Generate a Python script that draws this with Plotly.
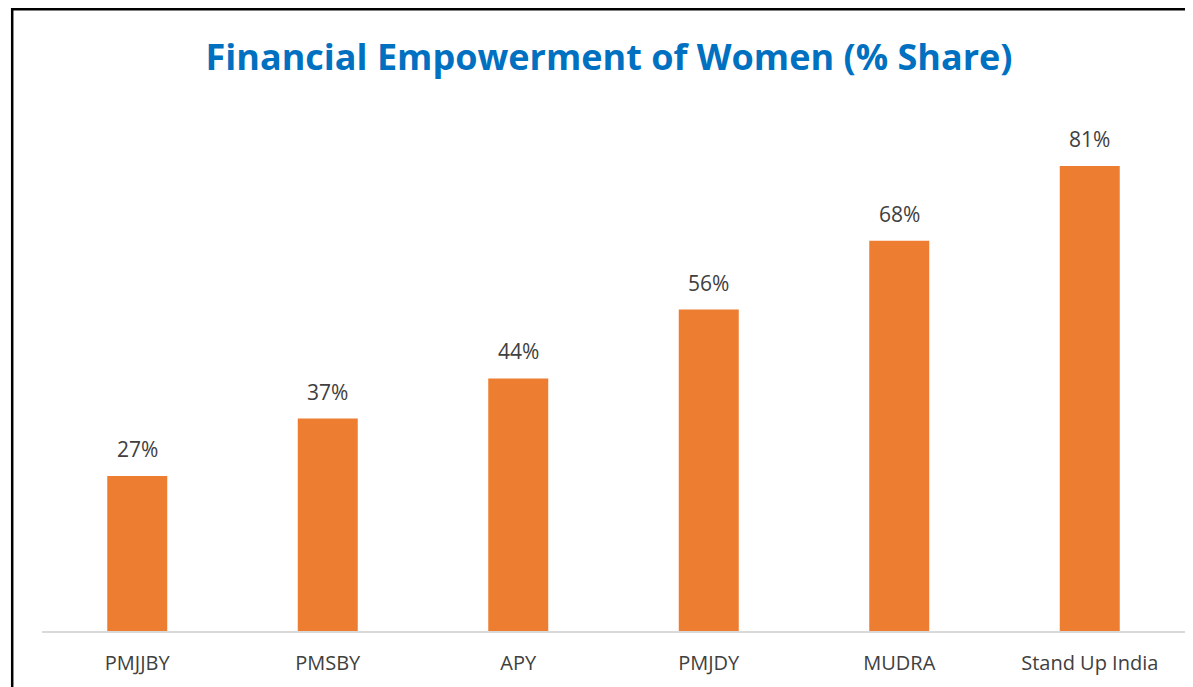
import plotly.graph_objects as go

categories = ["PMJJBY", "PMSBY", "APY", "PMJDY", "MUDRA", "Stand Up India"]
shares = [27, 37, 44, 56, 68, 81]
labels = ["27%", "37%", "44%", "56%", "68%", "81%"]

W, H = 1185, 679
L, T, B, R = 34, 92, 56, 8
PW = W - L - R
PH = H - T - B

fig = go.Figure()
fig.add_trace(go.Bar(
    x=categories, y=shares,
    marker=dict(color="#ED7D31", line=dict(width=0)),
    hoverinfo="x+y",
))
for c, v, t in zip(categories, shares, labels):
    fig.add_annotation(x=c, y=v, text=t, showarrow=False, yanchor="bottom", yshift=11,
                       font=dict(family="Open Sans, sans-serif", size=21, color="#404040"))

fig.update_layout(
    width=W, height=H,
    margin=dict(l=L, r=R, t=T, b=B),
    paper_bgcolor="white", plot_bgcolor="white",
    bargap=0.685,
    showlegend=False,
    title=dict(text="<b>Financial Empowerment of Women (% Share)</b>",
               x=(609 - 8) / W, xanchor="center", y=1 - 49 / H, yanchor="middle",
               font=dict(family="Open Sans, sans-serif", size=36, color="#0070C0")),
    xaxis=dict(showline=True, linecolor="#D9D9D9", linewidth=2, showgrid=False,
               ticks="outside", ticklen=13, tickcolor="rgba(0,0,0,0)",
               tickfont=dict(family="Open Sans, sans-serif", size=20, color="#404040")),
    yaxis=dict(range=[0, 92.5], visible=False, showgrid=False, zeroline=False),
    shapes=[dict(type="rect", xref="paper", yref="paper",
                 x0=(4.2 - L) / PW, x1=1.05, y0=-0.3, y1=(PH + T - 1.2) / PH,
                 line=dict(color="black", width=2.5), fillcolor="rgba(0,0,0,0)", layer="above")],
)
fig.write_html("out.html")
